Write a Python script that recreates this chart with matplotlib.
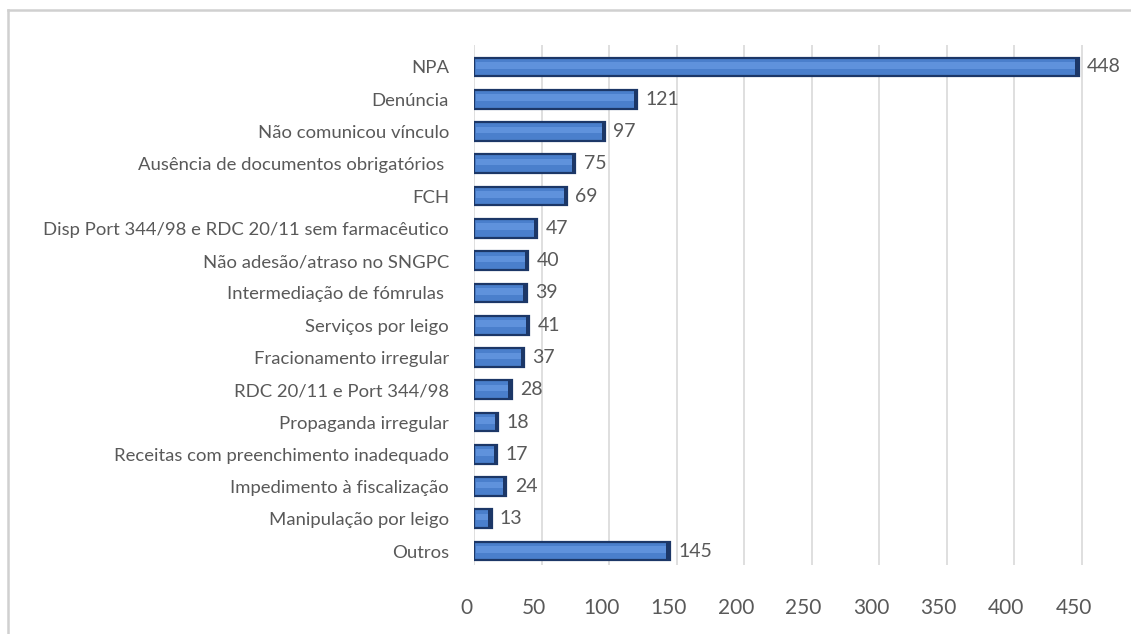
import matplotlib
matplotlib.use("Agg")
import matplotlib.pyplot as plt
import matplotlib.transforms as mtransforms
from matplotlib.lines import Line2D

categories = [
    "NPA",
    "Denúncia",
    "Não comunicou vínculo",
    "Ausência de documentos obrigatórios ",
    "FCH",
    "Disp Port 344/98 e RDC 20/11 sem farmacêutico",
    "Não adesão/atraso no SNGPC",
    "Intermediação de fómrulas ",
    "Serviços por leigo",
    "Fracionamento irregular",
    "RDC 20/11 e Port 344/98",
    "Propaganda irregular",
    "Receitas com preenchimento inadequado",
    "Impedimento à fiscalização",
    "Manipulação por leigo",
    "Outros",
]
values = [448, 121, 97, 75, 69, 47, 40, 39, 41, 37, 28, 18, 17, 24, 13, 145]
x_ticks = [0, 50, 100, 150, 200, 250, 300, 350, 400, 450]

FONT = "Lato"
TEXT_COLOR = "#595959"
W, H = 1131, 634

fig = plt.figure(figsize=(W / 100, H / 100), dpi=100)
ax = fig.add_axes([474 / W, 1 - 565 / H, 621 / W, 520 / H])

ypos = list(range(len(categories)))

# vertical gridlines
for t in x_ticks:
    ax.axvline(t, color="#d9d9d9", lw=1.2, zorder=0)

# bar body
ax.barh(ypos, values, height=0.58, color="#4a7fcc", edgecolor="#1c3767",
        linewidth=1.6, zorder=2)
# lighter highlight band
ax.barh([y - 0.05 for y in ypos], [v - 2.5 for v in values], left=1.2,
        height=0.2, color="#5f92dc", linewidth=0, zorder=3)
# dark end cap
ax.barh(ypos, [2.5] * len(values), left=[v - 2.5 for v in values],
        height=0.58, color="#1c3767", linewidth=0, zorder=3)

# value labels
for y, v in zip(ypos, values):
    ax.annotate(str(v), (v, y), xytext=(6, 0), textcoords="offset points",
                va="center", ha="left", fontsize=14, color=TEXT_COLOR,
                family=FONT)

ax.set_xlim(0, 460)
ax.set_ylim(15.43, -0.68)
ax.set_yticks(ypos)
ax.set_yticklabels(categories, fontsize=13.3, color=TEXT_COLOR, family=FONT)
ax.set_xticks(x_ticks)
ax.set_xticklabels([str(t) for t in x_ticks], fontsize=15,
                   color=TEXT_COLOR, family=FONT)
ax.tick_params(axis="y", length=0, pad=18)
ax.tick_params(axis="x", length=0, pad=24)
shift = mtransforms.ScaledTranslation(-8 / 100, 0, fig.dpi_scale_trans)
for lbl in ax.get_xticklabels():
    lbl.set_transform(lbl.get_transform() + shift)

for s in ax.spines.values():
    s.set_visible(False)

# chart area frame (left and top edges)
fig.add_artist(Line2D([8 / W, 8 / W], [0, 1 - 10 / H],
                      transform=fig.transFigure, color="#d0d0d0", lw=1.8))
fig.add_artist(Line2D([8 / W, 1], [1 - 10 / H, 1 - 10 / H],
                      transform=fig.transFigure, color="#d0d0d0", lw=1.8))

fig.savefig("out.png", dpi=100)
